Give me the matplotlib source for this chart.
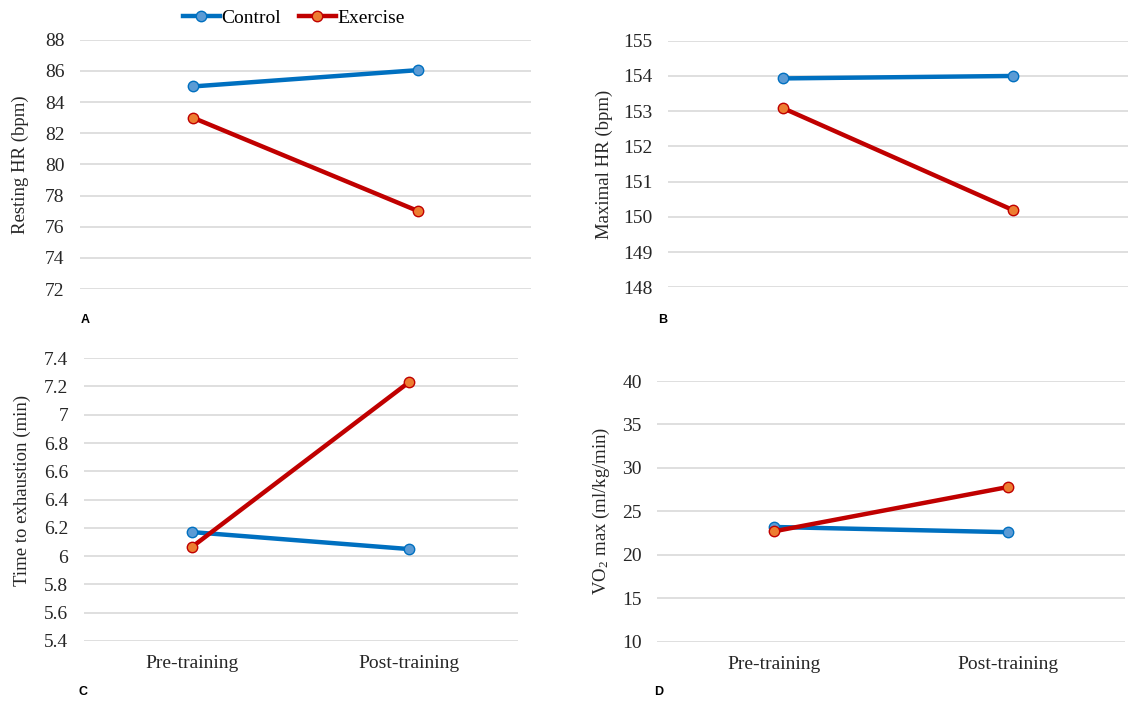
import matplotlib.pyplot as plt
from matplotlib.ticker import FixedLocator

# data
phases = ["Pre-training", "Post-training"]

restHR_control = [85.0, 86.05]
restHR_exercise = [83.0, 77.0]

maxHR_control = [153.93, 154.0]
maxHR_exercise = [153.09, 150.19]

tte_control = [6.17, 6.05]
tte_exercise = [6.065, 7.23]

vo2_control = [23.2, 22.6]
vo2_exercise = [22.7, 27.8]

plt.rcParams['font.family'] = ['Liberation Serif', 'DejaVu Serif']
plt.rcParams['mathtext.fontset'] = 'stix'

ctrl_line = '#0070C0'
ctrl_face = '#5B9BD5'
ex_line = '#C00000'
ex_face = '#ED7D31'

fig = plt.figure(figsize=(11.47, 7.07), dpi=100)

# axes rects in figure fractions [left, bottom, width, height]
rects = [
    [0.0697, 0.5912, 0.3932, 0.3526],
    [0.5820, 0.5936, 0.4017, 0.3488],
    [0.0728, 0.0934, 0.3784, 0.4000],
    [0.5728, 0.0924, 0.4080, 0.3687],
]

panels = [
    (restHR_control, restHR_exercise, "Resting HR (bpm)", (72, 88), 2, "A"),
    (maxHR_control, maxHR_exercise, "Maximal HR (bpm)", (148, 155), 1, "B"),
    (tte_control, tte_exercise, "Time to exhaustion (min)", (5.4, 7.4), 0.2, "C"),
    (vo2_control, vo2_exercise, r"VO$_\mathregular{2}$ max (ml/kg/min)", (10, 40), 5, "D"),
]
label_x = [-0.113, -0.118, -0.121, -0.096]
label_y = [0.5, 0.5, 0.534, 0.5]
letter_pos = [(85, 320), (663, 320), (83, 692), (659, 692)]

x = [0, 1]
for i, (c, e, ylab, ylim, step, letter) in enumerate(panels):
    ax = fig.add_axes(rects[i])
    ax.plot(x, c, color=ctrl_line, lw=3.2, marker='o', ms=7.5,
            mfc=ctrl_face, mec=ctrl_line, mew=1, label='Control', zorder=3)
    ax.plot(x, e, color=ex_line, lw=3.2, marker='o', ms=7.5,
            mfc=ex_face, mec=ex_line, mew=1, label='Exercise', zorder=4)
    ax.set_xlim(-0.5, 1.5)
    ax.set_ylim(*ylim)
    n = int(round((ylim[1] - ylim[0]) / step))
    ticks = [ylim[0] + k * step for k in range(n + 1)]
    ax.yaxis.set_major_locator(FixedLocator(ticks))
    if letter == "C":
        ax.set_yticklabels([f"{t:.0f}" if abs(t - round(t)) < 1e-9 else f"{t:.1f}" for t in ticks])
    ax.set_xticks(x)
    ax.set_xticklabels(phases if letter in ("C", "D") else [])
    ax.grid(axis='y', color='#D9D9D9', lw=1.2)
    ax.set_axisbelow(True)
    for s in ax.spines.values():
        s.set_visible(False)
    ax.tick_params(length=0, labelsize=14, colors='#262626')
    ax.tick_params(axis='y', pad=11)
    ax.tick_params(axis='x', pad=10)
    ax.set_ylabel(ylab, fontsize=13.5, color='#262626')
    ax.yaxis.set_label_coords(label_x[i], label_y[i])
    fig.text(letter_pos[i][0] / 1147, 1 - letter_pos[i][1] / 707, letter,
             family='Liberation Sans', weight='bold', fontsize=9,
             ha='center', va='center')
    if i == 0:
        handles, labels = ax.get_legend_handles_labels()

fig.legend(handles, labels, loc='center', ncol=2, frameon=False,
           bbox_to_anchor=(294 / 1147, 1 - 18 / 707), fontsize=14,
           handlelength=1.9, handletextpad=0.1, columnspacing=0.9)

fig.savefig('out.png', dpi=100)
